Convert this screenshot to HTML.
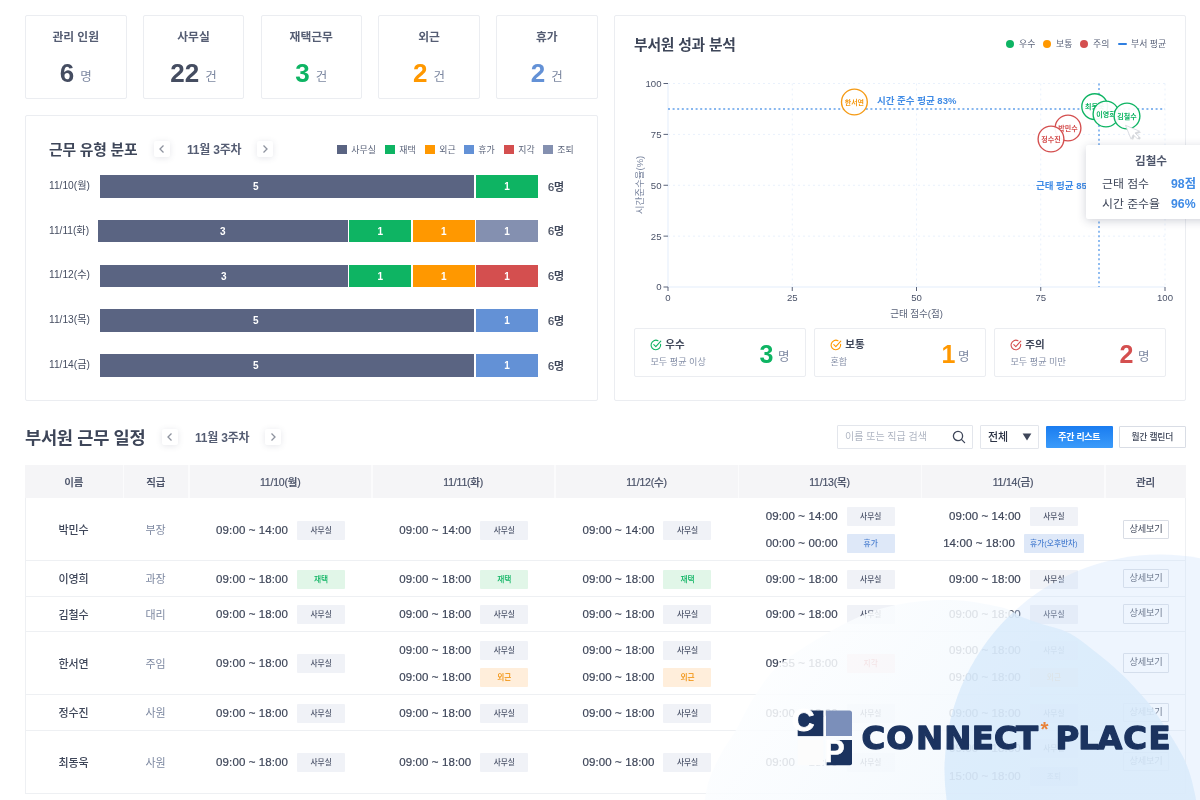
<!DOCTYPE html><html lang="ko"><head><meta charset="utf-8"><title>부서원 근무 현황</title><style>
*{box-sizing:border-box;margin:0;padding:0}
html,body{width:1200px;height:800px;overflow:hidden;background:#fff}
body{position:relative;font-family:"Liberation Sans","Noto Sans CJK KR","NanumGothic",sans-serif;color:#3e4659;-webkit-font-smoothing:antialiased}
.abs{position:absolute}
.card{position:absolute;top:15px;width:101.5px;height:84px;border:1px solid #ebedf1;border-radius:2px;background:#fff;text-align:center}
.card .t{position:absolute;left:0;right:0;top:11.5px;font-size:11.8px;font-weight:700;color:#555d73;line-height:18px}
.card .v{position:absolute;left:0;right:0;top:41.2px;line-height:32px;font-size:26px;font-weight:700;color:#454d61;white-space:nowrap}
.card .v span{font-size:12.5px;font-weight:400;color:#7d88a1;margin-left:6px;position:relative;top:-1px}
.panel{position:absolute;border:1px solid #ebedf1;border-radius:2px;background:#fff}
.ptitle{position:absolute;font-size:15px;font-weight:700;color:#3e4659;line-height:24px;white-space:nowrap;letter-spacing:-0.2px}
.nav{position:absolute;width:16px;height:16px;background:#fff;border-radius:2px;box-shadow:0 1px 6px rgba(60,70,100,.13)}
.nav svg{position:absolute;left:0;top:0}
.week{position:absolute;font-size:12px;font-weight:700;color:#555d73;line-height:18px;white-space:nowrap;letter-spacing:-0.2px}
.lg{position:absolute;font-size:8.9px;color:#5a637a;line-height:12px;white-space:nowrap}
.sq{position:absolute;width:9.6px;height:9.6px}
.rl{position:absolute;left:49px;font-size:10.2px;color:#454d61;line-height:14px;white-space:nowrap;font-weight:400}
.seg{position:absolute;height:22.5px;color:#fff;font-size:10px;font-weight:700;text-align:center;line-height:24px}
.tot{position:absolute;left:548px;font-size:11px;font-weight:500;-webkit-text-stroke:0.2px #3e4659;color:#3e4659;line-height:14px}
.c-of{background:#5a6482}.c-re{background:#0eb463}.c-out{background:#ff9800}.c-va{background:#6391d6}.c-la{background:#d44f4f}.c-ea{background:#8490b0}
.sc{position:absolute;top:328px;height:48.5px;width:172px;border:1px solid #ebedf1;border-radius:2px;background:#fff}
.sc .h{position:absolute;left:30.3px;top:7.3px;font-size:10.5px;font-weight:700;color:#3e4659;line-height:16px}
.sc .d{position:absolute;left:15.5px;top:26.7px;font-size:9.1px;color:#8690a8;line-height:12px;white-space:nowrap}
.sc .n{position:absolute;right:31.5px;top:7px;font-size:25px;font-weight:700;line-height:36px}
.sc .u{position:absolute;right:15.5px;top:18.8px;font-size:12.5px;color:#7d88a1;line-height:18px}
.sc svg{position:absolute;left:14.5px;top:9.8px}
.th{position:absolute;top:465px;height:33px;background:#f5f5f7;font-size:10.5px;padding-top:1px;-webkit-text-stroke:0.2px #4a5268;font-weight:500;color:#4a5268;text-align:center;line-height:33px;letter-spacing:-0.2px}
.row{position:absolute;left:25px;width:1160px;border-bottom:1px solid #eceef2}
.nm{position:absolute;font-size:11px;color:#3e4659;text-align:center;line-height:16px;font-weight:500;letter-spacing:-0.2px}
.rk{position:absolute;font-size:11px;color:#7d88a1;text-align:center;line-height:16px}
.sl{position:absolute;height:19px;display:flex;justify-content:center;align-items:center;white-space:nowrap}
.sl .tm{font-size:11.5px;color:#3e4659;-webkit-text-stroke:0.2px #3e4659;line-height:19px;margin-right:9px;letter-spacing:0.1px;width:72px;text-align:center}
.bd{display:inline-block;min-width:48px;height:19px;padding:0 6px;font-size:7.7px;line-height:19px;text-align:center;border-radius:1px;font-weight:500}
.b-of{background:#f0f2f7;color:#4a5268}.b-re{background:#e1f6e8;color:#0eb463}.b-out{background:#ffeedb;color:#f08c00}.b-va{background:#dee8f8;color:#4a7fd0}.b-la{background:#fde0e0;color:#d44f4f}.b-ea{background:#e8ebf3;color:#7d88a1}
.btn{position:absolute;left:1123px;width:46px;height:19.5px;border:1px solid #d9dde5;background:#fff;font-size:9.2px;color:#3e4659;text-align:center;line-height:17.5px;border-radius:1px;letter-spacing:-0.2px}
</style></head><body>
<div class="card" style="left:25.0px"><div class="t">관리 인원</div><div class="v" style="color:#454d61">6<span>명</span></div></div>
<div class="card" style="left:142.75px"><div class="t">사무실</div><div class="v" style="color:#454d61">22<span>건</span></div></div>
<div class="card" style="left:260.5px"><div class="t">재택근무</div><div class="v" style="color:#0eb463">3<span>건</span></div></div>
<div class="card" style="left:378.25px"><div class="t">외근</div><div class="v" style="color:#ff9800">2<span>건</span></div></div>
<div class="card" style="left:496.0px"><div class="t">휴가</div><div class="v" style="color:#6391d6">2<span>건</span></div></div>
<div class="panel" style="left:25px;top:115px;width:572.5px;height:285.5px"></div>
<div class="ptitle" style="left:49px;top:138.2px;font-size:14.8px">근무 유형 분포</div>
<div class="nav" style="left:154px;top:141px"><svg width="16" height="16" viewBox="0 0 16 16"><path d="M9.5 4.5 L6 8 L9.5 11.5" fill="none" stroke="#8d929e" stroke-width="1.3"/></svg></div>
<div class="week" style="left:187px;top:140.7px">11월 3주차</div>
<div class="nav" style="left:257px;top:141px"><svg width="16" height="16" viewBox="0 0 16 16"><path d="M6.5 4.5 L10 8 L6.5 11.5" fill="none" stroke="#8d929e" stroke-width="1.3"/></svg></div>
<div class="sq c-of" style="left:337px;top:144.5px"></div><div class="lg" style="left:351.3px;top:143.7px">사무실</div>
<div class="sq c-re" style="left:385px;top:144.5px"></div><div class="lg" style="left:399.3px;top:143.7px">재택</div>
<div class="sq c-out" style="left:425px;top:144.5px"></div><div class="lg" style="left:439.3px;top:143.7px">외근</div>
<div class="sq c-va" style="left:464px;top:144.5px"></div><div class="lg" style="left:478.3px;top:143.7px">휴가</div>
<div class="sq c-la" style="left:504px;top:144.5px"></div><div class="lg" style="left:518.3px;top:143.7px">지각</div>
<div class="sq c-ea" style="left:543px;top:144.5px"></div><div class="lg" style="left:557.3px;top:143.7px">조퇴</div>
<div class="rl" style="top:178.8px">11/10(월)</div>
<div class="seg c-of" style="left:100px;top:175.0px;width:374.25px;text-align:left;padding-left:153px">5</div>
<div class="seg c-re" style="left:476px;top:175.0px;width:62px">1</div>
<div class="tot" style="top:179.5px">6명</div>
<div class="rl" style="top:223.55px">11/11(화)</div>
<div class="seg c-of" style="left:98.25px;top:219.75px;width:249.25px">3</div>
<div class="seg c-re" style="left:349.25px;top:219.75px;width:62.0px">1</div>
<div class="seg c-out" style="left:413px;top:219.75px;width:61.75px">1</div>
<div class="seg c-ea" style="left:476.25px;top:219.75px;width:61.75px">1</div>
<div class="tot" style="top:224.25px">6명</div>
<div class="rl" style="top:268.3px">11/12(수)</div>
<div class="seg c-of" style="left:100px;top:264.5px;width:247.5px">3</div>
<div class="seg c-re" style="left:349.25px;top:264.5px;width:62.0px">1</div>
<div class="seg c-out" style="left:413px;top:264.5px;width:61.75px">1</div>
<div class="seg c-la" style="left:476.25px;top:264.5px;width:61.75px">1</div>
<div class="tot" style="top:269.0px">6명</div>
<div class="rl" style="top:313.05px">11/13(목)</div>
<div class="seg c-of" style="left:100px;top:309.25px;width:374.25px;text-align:left;padding-left:153px">5</div>
<div class="seg c-va" style="left:476.25px;top:309.25px;width:61.75px">1</div>
<div class="tot" style="top:313.75px">6명</div>
<div class="rl" style="top:357.8px">11/14(금)</div>
<div class="seg c-of" style="left:100px;top:354.0px;width:374.25px;text-align:left;padding-left:153px">5</div>
<div class="seg c-va" style="left:476.25px;top:354.0px;width:61.75px">1</div>
<div class="tot" style="top:358.5px">6명</div>
<div class="panel" style="left:614px;top:15px;width:571.5px;height:385.5px"></div>
<div class="ptitle" style="left:634px;top:32.5px;font-size:14.8px">부서원 성과 분석</div>
<div class="abs" style="left:1006px;top:40px;width:8px;height:8px;border-radius:50%;background:#0eb463"></div><div class="lg" style="left:1019px;top:38px">우수</div>
<div class="abs" style="left:1043px;top:40px;width:8px;height:8px;border-radius:50%;background:#ff9800"></div><div class="lg" style="left:1056px;top:38px">보통</div>
<div class="abs" style="left:1080px;top:40px;width:8px;height:8px;border-radius:50%;background:#d44f4f"></div><div class="lg" style="left:1093px;top:38px">주의</div>
<div class="abs" style="left:1118px;top:43.2px;width:9px;height:2px;background:#2f7fe0;border-radius:1px"></div><div class="lg" style="left:1131px;top:38px">부서 평균</div>
<svg class="abs" style="left:0;top:0" width="1200" height="420" viewBox="0 0 1200 420" font-family="Liberation Sans, Noto Sans CJK KR, sans-serif"><line x1="668" y1="236.125" x2="1165" y2="236.125" stroke="#e9f1fc" stroke-width="1" stroke-dasharray="2 3"/><line x1="792.25" y1="83.5" x2="792.25" y2="287" stroke="#e9f1fc" stroke-width="1" stroke-dasharray="2 3"/><line x1="668" y1="185.25" x2="1165" y2="185.25" stroke="#e9f1fc" stroke-width="1" stroke-dasharray="2 3"/><line x1="916.5" y1="83.5" x2="916.5" y2="287" stroke="#e9f1fc" stroke-width="1" stroke-dasharray="2 3"/><line x1="668" y1="134.375" x2="1165" y2="134.375" stroke="#e9f1fc" stroke-width="1" stroke-dasharray="2 3"/><line x1="1040.75" y1="83.5" x2="1040.75" y2="287" stroke="#e9f1fc" stroke-width="1" stroke-dasharray="2 3"/><line x1="668" y1="83.5" x2="1165" y2="83.5" stroke="#e9f1fc" stroke-width="1" stroke-dasharray="2 3"/><line x1="1165.0" y1="83.5" x2="1165.0" y2="287" stroke="#e9f1fc" stroke-width="1" stroke-dasharray="2 3"/><path d="M668 83.5 V287 H1165" fill="none" stroke="#e3edfb" stroke-width="1"/><line x1="663.5" y1="287.0" x2="668" y2="287.0" stroke="#5a637a" stroke-width="1"/><text x="661.5" y="290.4" font-size="9.6" fill="#4a5268" text-anchor="end">0</text><line x1="668.0" y1="287" x2="668.0" y2="291" stroke="#5a637a" stroke-width="1"/><text x="668.0" y="301" font-size="9.6" fill="#4a5268" text-anchor="middle">0</text><line x1="663.5" y1="236.125" x2="668" y2="236.125" stroke="#5a637a" stroke-width="1"/><text x="661.5" y="239.525" font-size="9.6" fill="#4a5268" text-anchor="end">25</text><line x1="792.25" y1="287" x2="792.25" y2="291" stroke="#5a637a" stroke-width="1"/><text x="792.25" y="301" font-size="9.6" fill="#4a5268" text-anchor="middle">25</text><line x1="663.5" y1="185.25" x2="668" y2="185.25" stroke="#5a637a" stroke-width="1"/><text x="661.5" y="188.65" font-size="9.6" fill="#4a5268" text-anchor="end">50</text><line x1="916.5" y1="287" x2="916.5" y2="291" stroke="#5a637a" stroke-width="1"/><text x="916.5" y="301" font-size="9.6" fill="#4a5268" text-anchor="middle">50</text><line x1="663.5" y1="134.375" x2="668" y2="134.375" stroke="#5a637a" stroke-width="1"/><text x="661.5" y="137.775" font-size="9.6" fill="#4a5268" text-anchor="end">75</text><line x1="1040.75" y1="287" x2="1040.75" y2="291" stroke="#5a637a" stroke-width="1"/><text x="1040.75" y="301" font-size="9.6" fill="#4a5268" text-anchor="middle">75</text><line x1="663.5" y1="83.5" x2="668" y2="83.5" stroke="#5a637a" stroke-width="1"/><text x="661.5" y="86.9" font-size="9.6" fill="#4a5268" text-anchor="end">100</text><line x1="1165.0" y1="287" x2="1165.0" y2="291" stroke="#5a637a" stroke-width="1"/><text x="1165.0" y="301" font-size="9.6" fill="#4a5268" text-anchor="middle">100</text><text x="916.5" y="316.5" font-size="9.5" fill="#5a637a" text-anchor="middle">근태 점수(점)</text><text transform="translate(643 185) rotate(-90)" font-size="9.5" fill="#7d88a1" text-anchor="middle">시간준수율(%)</text><line x1="668" y1="109" x2="1165" y2="109" stroke="#62a0ea" stroke-width="1.4" stroke-dasharray="2 2.6"/><line x1="1099" y1="83.5" x2="1099" y2="287" stroke="#62a0ea" stroke-width="1.4" stroke-dasharray="2 2.6"/><text x="877" y="104" font-size="9.5" font-weight="700" fill="#3f8be6">시간 준수 평균 83%</text><text x="1036" y="188.5" font-size="9.5" font-weight="700" fill="#3f8be6">근태 평균 85점</text><circle cx="854.4" cy="102" r="12.9" fill="rgba(255,255,255,.93)" stroke="#f59a14" stroke-width="1.35"/><text x="854.4" y="104.6" font-size="7" font-weight="700" fill="#f59a14" text-anchor="middle">한서연</text><circle cx="1094.7" cy="106.6" r="12.9" fill="rgba(255,255,255,.93)" stroke="#0eb463" stroke-width="1.35"/><text x="1094.7" y="109.19999999999999" font-size="7" font-weight="700" fill="#0eb463" text-anchor="middle">최동욱</text><circle cx="1068" cy="128" r="12.9" fill="rgba(255,255,255,.93)" stroke="#d44f4f" stroke-width="1.35"/><text x="1068" y="130.6" font-size="7" font-weight="700" fill="#d44f4f" text-anchor="middle">박민수</text><circle cx="1051" cy="139" r="12.9" fill="rgba(255,255,255,.93)" stroke="#d44f4f" stroke-width="1.35"/><text x="1051" y="141.6" font-size="7" font-weight="700" fill="#d44f4f" text-anchor="middle">정수진</text><circle cx="1106" cy="114" r="12.9" fill="rgba(255,255,255,.93)" stroke="#0eb463" stroke-width="1.35"/><text x="1106" y="116.6" font-size="7" font-weight="700" fill="#0eb463" text-anchor="middle">이영희</text><circle cx="1127" cy="116" r="12.9" fill="rgba(255,255,255,.93)" stroke="#0eb463" stroke-width="1.35"/><text x="1127" y="118.6" font-size="7" font-weight="700" fill="#0eb463" text-anchor="middle">김철수</text><g transform="translate(1125.5 125.3) rotate(-22)"><path d="M0 0 L0 15 L3.6 11.6 L6 17 L8.3 16 L5.9 10.7 L10.8 10.7 Z" fill="#8a8f99" fill-opacity=".35" transform="translate(1.2 1.6)"/><path d="M0 0 L0 15 L3.6 11.6 L6 17 L8.3 16 L5.9 10.7 L10.8 10.7 Z" fill="#fff" stroke="#d2d5db" stroke-width=".7" stroke-linejoin="round"/></g></svg>
<div class="abs" style="left:1086px;top:145px;width:130px;height:74px;background:#fff;box-shadow:0 2px 10px rgba(40,50,80,.22);border-radius:2px"></div>
<div class="abs" style="left:1086px;top:152px;width:130px;text-align:center;font-size:11.6px;font-weight:700;color:#4f576c;line-height:18px">김철수</div>
<div class="abs" style="left:1102px;top:175px;font-size:11.9px;color:#3e4659;line-height:18px;white-space:nowrap">근태 점수</div>
<div class="abs" style="left:1171px;top:175px;font-size:12.3px;color:#3f8be6;line-height:18px;white-space:nowrap;font-weight:700">98점</div>
<div class="abs" style="left:1102px;top:194.5px;font-size:11.9px;color:#3e4659;line-height:18px;white-space:nowrap">시간 준수율</div>
<div class="abs" style="left:1171px;top:194.5px;font-size:12.3px;color:#3f8be6;line-height:18px;white-space:nowrap;font-weight:700">96%</div>
<div class="sc" style="left:634px"><svg width="12" height="12" viewBox="0 0 12 12"><path d="M10.6 5.2 A4.8 4.8 0 1 1 8 1.7" fill="none" stroke="#0eb463" stroke-width="1.1" stroke-linecap="round"/><path d="M3.8 5.6 L5.8 7.6 L10.8 2.2" fill="none" stroke="#0eb463" stroke-width="1.1" stroke-linecap="round" stroke-linejoin="round"/></svg><div class="h">우수</div><div class="d">모두 평균 이상</div><div class="n" style="color:#0eb463">3</div><div class="u">명</div></div>
<div class="sc" style="left:814px"><svg width="12" height="12" viewBox="0 0 12 12"><path d="M10.6 5.2 A4.8 4.8 0 1 1 8 1.7" fill="none" stroke="#ff9800" stroke-width="1.1" stroke-linecap="round"/><path d="M3.8 5.6 L5.8 7.6 L10.8 2.2" fill="none" stroke="#ff9800" stroke-width="1.1" stroke-linecap="round" stroke-linejoin="round"/></svg><div class="h">보통</div><div class="d">혼합</div><div class="n" style="color:#ff9800;right:29.5px">1</div><div class="u">명</div></div>
<div class="sc" style="left:994px"><svg width="12" height="12" viewBox="0 0 12 12"><path d="M10.6 5.2 A4.8 4.8 0 1 1 8 1.7" fill="none" stroke="#d44f4f" stroke-width="1.1" stroke-linecap="round"/><path d="M3.8 5.6 L5.8 7.6 L10.8 2.2" fill="none" stroke="#d44f4f" stroke-width="1.1" stroke-linecap="round" stroke-linejoin="round"/></svg><div class="h">주의</div><div class="d">모두 평균 미만</div><div class="n" style="color:#d44f4f">2</div><div class="u">명</div></div>
<div class="ptitle" style="left:25px;top:425.5px;font-size:17.6px;font-weight:700;letter-spacing:-0.3px">부서원 근무 일정</div>
<div class="nav" style="left:162px;top:429px"><svg width="16" height="16" viewBox="0 0 16 16"><path d="M9.5 4.5 L6 8 L9.5 11.5" fill="none" stroke="#8d929e" stroke-width="1.3"/></svg></div>
<div class="week" style="left:195px;top:428.6px">11월 3주차</div>
<div class="nav" style="left:265px;top:429px"><svg width="16" height="16" viewBox="0 0 16 16"><path d="M6.5 4.5 L10 8 L6.5 11.5" fill="none" stroke="#8d929e" stroke-width="1.3"/></svg></div>
<div class="abs" style="left:836.5px;top:425px;width:136px;height:23.5px;border:1px solid #e3e6ec;border-radius:1px;background:#fff"></div>
<div class="abs" style="left:845px;top:429px;font-size:10px;color:#b0b6c3;line-height:16px;white-space:nowrap">이름 또는 직급 검색</div>
<svg class="abs" style="left:951px;top:429px" width="16" height="16" viewBox="0 0 16 16"><circle cx="7" cy="7" r="4.6" fill="none" stroke="#3e4659" stroke-width="1.3"/><path d="M10.4 10.4 L13.6 13.6" stroke="#3e4659" stroke-width="1.3" stroke-linecap="round"/></svg>
<div class="abs" style="left:980px;top:425px;width:59px;height:23.5px;border:1px solid #e3e6ec;border-radius:1px;background:#fff"></div>
<div class="abs" style="left:988px;top:429px;font-size:11px;color:#2c3345;line-height:16px;font-weight:500">전체</div>
<svg class="abs" style="left:1022px;top:433px" width="10" height="8" viewBox="0 0 10 8"><path d="M0.6 0.6 H9.4 L5 7.4 Z" fill="#3e4659"/></svg>
<div class="abs" style="left:1046px;top:426px;width:66.5px;height:22px;background:linear-gradient(180deg,#1a7cf0,#3b9bfa);color:#fff;font-size:8.9px;font-weight:700;text-align:center;line-height:22px;border-radius:1px;letter-spacing:-0.2px">주간 리스트</div>
<div class="abs" style="left:1119px;top:426px;width:66.5px;height:22px;background:#fff;border:1px solid #d9dde5;color:#3e4659;font-size:8.8px;font-weight:500;text-align:center;line-height:20px;border-radius:1px;letter-spacing:-0.2px">월간 캘린더</div>
<div class="abs" style="left:25px;top:465px;width:1160.5px;height:33px;background:#fbfbfc"></div>
<div class="th" style="left:25px;width:97.5px">이름</div>
<div class="th" style="left:123.5px;width:64.5px">직급</div>
<div class="th" style="left:189.5px;width:181.5px">11/10(월)</div>
<div class="th" style="left:372.5px;width:181.5px">11/11(화)</div>
<div class="th" style="left:555.5px;width:182.0px">11/12(수)</div>
<div class="th" style="left:738.5px;width:182.0px">11/13(목)</div>
<div class="th" style="left:922px;width:182px">11/14(금)</div>
<div class="th" style="left:1105.5px;width:80.0px">관리</div>
<div class="abs" style="left:25px;top:498px;width:1160.5px;height:295.5px;border:1px solid #eef0f3;border-top:none"></div>
<div class="abs" style="left:25px;top:560.0px;width:1160.5px;height:1px;background:#eef0f3"></div>
<div class="nm" style="left:25px;width:97px;top:522.25px">박민수</div>
<div class="rk" style="left:123px;width:65px;top:522.25px">부장</div>
<div class="sl" style="left:189.0px;width:183.2px;top:520.55px"><span class="tm">09:00 ~ 14:00</span><span class="bd b-of">사무실</span></div>
<div class="sl" style="left:372.2px;width:183.2px;top:520.55px"><span class="tm">09:00 ~ 14:00</span><span class="bd b-of">사무실</span></div>
<div class="sl" style="left:555.4px;width:183.2px;top:520.55px"><span class="tm">09:00 ~ 14:00</span><span class="bd b-of">사무실</span></div>
<div class="sl" style="left:738.5999999999999px;width:183.2px;top:506.79999999999995px"><span class="tm">09:00 ~ 14:00</span><span class="bd b-of">사무실</span></div>
<div class="sl" style="left:738.5999999999999px;width:183.2px;top:534.3px"><span class="tm">00:00 ~ 00:00</span><span class="bd b-va">휴가</span></div>
<div class="sl" style="left:921.8px;width:183.2px;top:506.79999999999995px"><span class="tm">09:00 ~ 14:00</span><span class="bd b-of">사무실</span></div>
<div class="sl" style="left:921.8px;width:183.2px;top:534.3px"><span class="tm">14:00 ~ 18:00</span><span class="bd b-va">휴가(오후반차)</span></div>
<div class="btn" style="top:519.5px">상세보기</div>
<div class="abs" style="left:25px;top:595.5px;width:1160.5px;height:1px;background:#eef0f3"></div>
<div class="nm" style="left:25px;width:97px;top:571.25px">이영희</div>
<div class="rk" style="left:123px;width:65px;top:571.25px">과장</div>
<div class="sl" style="left:189.0px;width:183.2px;top:569.55px"><span class="tm">09:00 ~ 18:00</span><span class="bd b-re">재택</span></div>
<div class="sl" style="left:372.2px;width:183.2px;top:569.55px"><span class="tm">09:00 ~ 18:00</span><span class="bd b-re">재택</span></div>
<div class="sl" style="left:555.4px;width:183.2px;top:569.55px"><span class="tm">09:00 ~ 18:00</span><span class="bd b-re">재택</span></div>
<div class="sl" style="left:738.5999999999999px;width:183.2px;top:569.55px"><span class="tm">09:00 ~ 18:00</span><span class="bd b-of">사무실</span></div>
<div class="sl" style="left:921.8px;width:183.2px;top:569.55px"><span class="tm">09:00 ~ 18:00</span><span class="bd b-of">사무실</span></div>
<div class="btn" style="top:568.5px">상세보기</div>
<div class="abs" style="left:25px;top:631.0px;width:1160.5px;height:1px;background:#eef0f3"></div>
<div class="nm" style="left:25px;width:97px;top:606.75px">김철수</div>
<div class="rk" style="left:123px;width:65px;top:606.75px">대리</div>
<div class="sl" style="left:189.0px;width:183.2px;top:605.05px"><span class="tm">09:00 ~ 18:00</span><span class="bd b-of">사무실</span></div>
<div class="sl" style="left:372.2px;width:183.2px;top:605.05px"><span class="tm">09:00 ~ 18:00</span><span class="bd b-of">사무실</span></div>
<div class="sl" style="left:555.4px;width:183.2px;top:605.05px"><span class="tm">09:00 ~ 18:00</span><span class="bd b-of">사무실</span></div>
<div class="sl" style="left:738.5999999999999px;width:183.2px;top:605.05px"><span class="tm">09:00 ~ 18:00</span><span class="bd b-of">사무실</span></div>
<div class="sl" style="left:921.8px;width:183.2px;top:605.05px"><span class="tm">09:00 ~ 18:00</span><span class="bd b-of">사무실</span></div>
<div class="btn" style="top:604.0px">상세보기</div>
<div class="abs" style="left:25px;top:694.0px;width:1160.5px;height:1px;background:#eef0f3"></div>
<div class="nm" style="left:25px;width:97px;top:656.0px">한서연</div>
<div class="rk" style="left:123px;width:65px;top:656.0px">주임</div>
<div class="sl" style="left:189.0px;width:183.2px;top:654.3px"><span class="tm">09:00 ~ 18:00</span><span class="bd b-of">사무실</span></div>
<div class="sl" style="left:372.2px;width:183.2px;top:640.55px"><span class="tm">09:00 ~ 18:00</span><span class="bd b-of">사무실</span></div>
<div class="sl" style="left:372.2px;width:183.2px;top:668.05px"><span class="tm">09:00 ~ 18:00</span><span class="bd b-out">외근</span></div>
<div class="sl" style="left:555.4px;width:183.2px;top:640.55px"><span class="tm">09:00 ~ 18:00</span><span class="bd b-of">사무실</span></div>
<div class="sl" style="left:555.4px;width:183.2px;top:668.05px"><span class="tm">09:00 ~ 18:00</span><span class="bd b-out">외근</span></div>
<div class="sl" style="left:738.5999999999999px;width:183.2px;top:654.3px"><span class="tm">09:55 ~ 18:00</span><span class="bd b-la">지각</span></div>
<div class="sl" style="left:921.8px;width:183.2px;top:640.55px"><span class="tm">09:00 ~ 18:00</span><span class="bd b-of">사무실</span></div>
<div class="sl" style="left:921.8px;width:183.2px;top:668.05px"><span class="tm">09:00 ~ 18:00</span><span class="bd b-out">외근</span></div>
<div class="btn" style="top:653.25px">상세보기</div>
<div class="abs" style="left:25px;top:729.5px;width:1160.5px;height:1px;background:#eef0f3"></div>
<div class="nm" style="left:25px;width:97px;top:705.25px">정수진</div>
<div class="rk" style="left:123px;width:65px;top:705.25px">사원</div>
<div class="sl" style="left:189.0px;width:183.2px;top:703.55px"><span class="tm">09:00 ~ 18:00</span><span class="bd b-of">사무실</span></div>
<div class="sl" style="left:372.2px;width:183.2px;top:703.55px"><span class="tm">09:00 ~ 18:00</span><span class="bd b-of">사무실</span></div>
<div class="sl" style="left:555.4px;width:183.2px;top:703.55px"><span class="tm">09:00 ~ 18:00</span><span class="bd b-of">사무실</span></div>
<div class="sl" style="left:738.5999999999999px;width:183.2px;top:703.55px"><span class="tm">09:00 ~ 18:00</span><span class="bd b-of">사무실</span></div>
<div class="sl" style="left:921.8px;width:183.2px;top:703.55px"><span class="tm">09:00 ~ 18:00</span><span class="bd b-of">사무실</span></div>
<div class="btn" style="top:702.5px">상세보기</div>
<div class="nm" style="left:25px;width:97px;top:754.5px">최동욱</div>
<div class="rk" style="left:123px;width:65px;top:754.5px">사원</div>
<div class="sl" style="left:189.0px;width:183.2px;top:752.8px"><span class="tm">09:00 ~ 18:00</span><span class="bd b-of">사무실</span></div>
<div class="sl" style="left:372.2px;width:183.2px;top:752.8px"><span class="tm">09:00 ~ 18:00</span><span class="bd b-of">사무실</span></div>
<div class="sl" style="left:555.4px;width:183.2px;top:752.8px"><span class="tm">09:00 ~ 18:00</span><span class="bd b-of">사무실</span></div>
<div class="sl" style="left:738.5999999999999px;width:183.2px;top:752.8px"><span class="tm">09:00 ~ 18:00</span><span class="bd b-of">사무실</span></div>
<div class="sl" style="left:921.8px;width:183.2px;top:739.05px"><span class="tm">09:00 ~ 18:00</span><span class="bd b-of">사무실</span></div>
<div class="sl" style="left:921.8px;width:183.2px;top:766.55px"><span class="tm">15:00 ~ 18:00</span><span class="bd b-ea">조퇴</span></div>
<div class="btn" style="top:751.75px">상세보기</div>
<svg class="abs" style="left:0;top:0;pointer-events:none" width="1200" height="800" viewBox="0 0 1200 800">
<defs><clipPath id="cA"><path d="M700 830 C701.0 823.8 704.2 802.2 706 793 C707.8 783.8 708.3 781.8 711 775 C713.7 768.2 717.8 759.5 722 752 C726.2 744.5 730.3 739.7 736 730 C741.7 720.3 748.2 705.3 756 694 C763.8 682.7 768.0 673.8 783 662 C798.0 650.2 827.2 632.5 846 623 C864.8 613.5 878.7 608.8 896 605 C913.3 601.2 932.7 599.7 950 600 C967.3 600.3 988.0 604.2 1000 607 C1012.0 609.8 1015.3 614.2 1022 617 C1028.7 619.8 1032.0 620.8 1040 623.5 C1048.0 626.2 1060.0 628.2 1070 633.5 C1080.0 638.8 1091.2 648.6 1100 655.5 C1108.8 662.4 1115.0 667.8 1122.5 675 C1130.0 682.2 1139.0 692.0 1145 699 C1151.0 706.0 1152.0 707.0 1158.5 717 C1165.0 727.0 1177.9 745.9 1184 758.8 C1190.1 771.7 1192.5 782.6 1195 794.5 C1197.5 806.4 1198.3 824.1 1199 830 Z"/></clipPath>
<linearGradient id="gA" gradientUnits="userSpaceOnUse" x1="760" y1="640" x2="1000" y2="830"><stop offset="0" stop-color="#fdfeff"/><stop offset="1" stop-color="#f0f7fd"/></linearGradient></defs>
<path d="M700 830 C701.0 823.8 704.2 802.2 706 793 C707.8 783.8 708.3 781.8 711 775 C713.7 768.2 717.8 759.5 722 752 C726.2 744.5 730.3 739.7 736 730 C741.7 720.3 748.2 705.3 756 694 C763.8 682.7 768.0 673.8 783 662 C798.0 650.2 827.2 632.5 846 623 C864.8 613.5 878.7 608.8 896 605 C913.3 601.2 932.7 599.7 950 600 C967.3 600.3 988.0 604.2 1000 607 C1012.0 609.8 1015.3 614.2 1022 617 C1028.7 619.8 1032.0 620.8 1040 623.5 C1048.0 626.2 1060.0 628.2 1070 633.5 C1080.0 638.8 1091.2 648.6 1100 655.5 C1108.8 662.4 1115.0 667.8 1122.5 675 C1130.0 682.2 1139.0 692.0 1145 699 C1151.0 706.0 1152.0 707.0 1158.5 717 C1165.0 727.0 1177.9 745.9 1184 758.8 C1190.1 771.7 1192.5 782.6 1195 794.5 C1197.5 806.4 1198.3 824.1 1199 830 Z" fill="url(#gA)" fill-opacity="0.86"/>
<circle cx="1160" cy="770" r="215.5" fill="#cbe0fc" fill-opacity="0.33"/>
<circle cx="1160" cy="770" r="215.5" fill="#a7d4f7" fill-opacity="0.15" clip-path="url(#cA)"/>
</svg>
<svg class="abs" style="left:790px;top:700px" width="400" height="80" viewBox="790 700 400 80" font-family="Liberation Sans, sans-serif">
<rect x="797.7" y="710.5" width="25.6" height="25.6" fill="#1b335f"/>
<path d="M826 710.5 H849.5 Q852 710.5 852 713 V736.1 H826 Z" fill="#7b8fba"/>
<rect x="797.7" y="740" width="25.6" height="25.2" fill="#fcfcfc"/>
<path d="M826.7 739.9 H852 V763.2 Q852 765.2 850 765.2 H826.7 Z" fill="#1b335f"/>
<text x="791.8" y="731.4" font-size="31.5" font-weight="700" fill="#fff" stroke="#fff" stroke-width="0.9" stroke-linejoin="round">C</text>
<text x="823.9" y="762.2" font-size="31" font-weight="700" fill="#fff" stroke="#fff" stroke-width="0.6">P</text>
<text x="861.6 886.3 916.1 944.2 971.7 994.1 1016.1" y="749.4" font-family="DejaVu Sans, Liberation Sans, sans-serif" font-size="32.4" font-weight="700" fill="#1b335f" stroke="#1b335f" stroke-width="1.3" stroke-linejoin="round">CONNECT</text>
<text x="1040.6" y="736.2" font-size="20.5" font-weight="700" fill="#e8833a">*</text>
<text x="1055.4 1078.3 1097.2 1123.2 1148.5" y="749.4" font-family="DejaVu Sans, Liberation Sans, sans-serif" font-size="32.4" font-weight="700" fill="#1b335f" stroke="#1b335f" stroke-width="1.3" stroke-linejoin="round">PLACE</text>
</svg>
</body></html>
